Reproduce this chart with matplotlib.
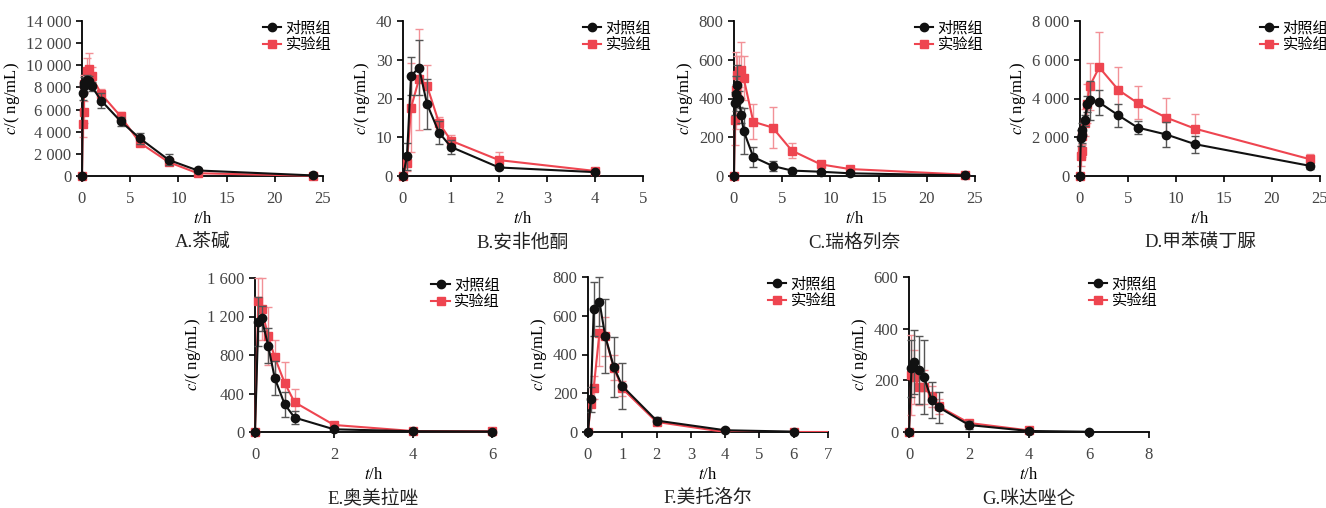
import matplotlib
matplotlib.use('Agg')
import matplotlib.pyplot as plt
from matplotlib.lines import Line2D
from matplotlib.ticker import FuncFormatter

plt.rcParams['font.family'] = ['Liberation Serif', 'Noto Sans CJK SC']
plt.rcParams['mathtext.fontset'] = 'stix'

BLACK = '#111111'
RED = '#ee4550'

# A 茶碱
t_a = [0, 0.083, 0.167, 0.25, 0.5, 0.75, 1, 2, 4, 6, 9, 12, 24]
ctrl_a = [0, 7500, 8100, 8400, 8700, 8600, 8100, 6800, 4950, 3400, 1450, 500, 50]
ctrl_a_sd = [0, 600, 500, 500, 400, 400, 400, 700, 400, 500, 500, 200, 50]
exp_a = [0, 4700, 5800, 8300, 9500, 9700, 9000, 7400, 5400, 3000, 1250, 250, 20]
exp_a_sd = [0, 1200, 1000, 800, 1200, 1400, 800, 500, 400, 300, 300, 150, 50]

# B 安非他酮
t_b = [0, 0.083, 0.167, 0.333, 0.5, 0.75, 1, 2, 4]
ctrl_b = [0, 5.1, 25.8, 28.0, 18.6, 11.2, 7.5, 2.2, 1.0]
ctrl_b_sd = [0, 3.5, 5.0, 7.0, 6.5, 3.0, 1.8, 0.5, 0.3]
exp_b = [0, 3.3, 17.6, 25.0, 23.3, 13.7, 9.1, 4.1, 1.3]
exp_b_sd = [0, 2.0, 11.5, 13.0, 5.4, 1.5, 1.5, 2.0, 0.4]

# C 瑞格列奈
t_c = [0, 0.083, 0.167, 0.333, 0.5, 0.75, 1, 2, 4, 6, 9, 12, 24]
ctrl_c = [0, 376, 425, 472, 397, 313, 233, 98, 52, 28, 22, 14, 3]
ctrl_c_sd = [0, 60, 90, 100, 40, 40, 120, 52, 25, 8, 5, 4, 2]
exp_c = [0, 287, 442, 520, 540, 549, 506, 280, 250, 131, 60, 36, 7]
exp_c_sd = [0, 125, 200, 100, 80, 145, 115, 90, 105, 40, 10, 8, 3]

# D 甲苯磺丁脲
t_d = [0, 0.083, 0.167, 0.25, 0.5, 0.75, 1, 2, 4, 6, 9, 12, 24]
ctrl_d = [0, 1950, 2100, 2400, 2870, 3710, 3900, 3800, 3130, 2500, 2140, 1640, 520]
ctrl_d_sd = [0, 400, 400, 350, 300, 400, 1000, 650, 580, 350, 650, 450, 150]
exp_d = [0, 1040, 1300, 2070, 2760, 3730, 4630, 5610, 4440, 3770, 3010, 2440, 860]
exp_d_sd = [0, 500, 300, 400, 700, 1000, 1200, 1800, 1200, 850, 1000, 780, 300]

# E 奥美拉唑
t_e = [0, 0.083, 0.167, 0.333, 0.5, 0.75, 1, 2, 4, 6]
ctrl_e = [0, 1148, 1183, 897, 560, 289, 150, 28, 8, 5]
ctrl_e_sd = [0, 250, 130, 180, 180, 130, 70, 10, 3, 2]
exp_e = [0, 1363, 1277, 998, 776, 511, 310, 73, 10, 8]
exp_e_sd = [0, 237, 320, 300, 180, 220, 140, 15, 3, 2]

# F 美托洛尔
t_f = [0, 0.083, 0.167, 0.333, 0.5, 0.75, 1, 2, 4, 6]
ctrl_f = [0, 168, 635, 673, 497, 336, 237, 59, 9, 2]
ctrl_f_sd = [0, 65, 140, 125, 190, 155, 120, 20, 3, 1]
t_f_exp = [0, 0.083, 0.167, 0.333, 0.5, 0.75, 1, 2, 4, 6, 8]
exp_f = [0, 147, 229, 511, 494, 332, 225, 52, 0, 0, 0]
exp_f_sd = [0, 20, 60, 170, 100, 65, 40, 15, 0, 0, 0]

# G 咪达唑仑
t_g = [0, 0.083, 0.167, 0.333, 0.5, 0.75, 1, 2, 4, 6]
ctrl_g = [0, 247, 271, 240, 213, 125, 95, 27, 4, 1]
ctrl_g_sd = [0, 110, 125, 130, 145, 70, 60, 15, 3, 1]
t_g_exp = [0, 0.083, 0.167, 0.333, 0.5, 0.75, 1, 2, 4]
exp_g = [0, 221, 212, 176, 174, 138, 99, 35, 6]
exp_g_sd = [0, 155, 105, 70, 65, 40, 30, 10, 3]

panels = [
    ('A.茶碱', [82, 21, 323, 176], t_a, ctrl_a, ctrl_a_sd, t_a, exp_a, exp_a_sd, 25, [0, 5, 10, 15, 20, 25], 14000, 2000),
    ('B.安非他酮', [403, 21, 643, 176], t_b, ctrl_b, ctrl_b_sd, t_b, exp_b, exp_b_sd, 5, [0, 1, 2, 3, 4, 5], 40, 10),
    ('C.瑞格列奈', [734, 21, 975, 176], t_c, ctrl_c, ctrl_c_sd, t_c, exp_c, exp_c_sd, 25, [0, 5, 10, 15, 20, 25], 800, 200),
    ('D.甲苯磺丁脲', [1080, 21, 1320, 176], t_d, ctrl_d, ctrl_d_sd, t_d, exp_d, exp_d_sd, 25, [0, 5, 10, 15, 20, 25], 8000, 2000),
    ('E.奥美拉唑', [255, 278, 492, 432], t_e, ctrl_e, ctrl_e_sd, t_e, exp_e, exp_e_sd, 6, [0, 2, 4, 6], 1600, 400),
    ('F.美托洛尔', [588, 277, 828, 432], t_f, ctrl_f, ctrl_f_sd, t_f_exp, exp_f, exp_f_sd, 7, [0, 1, 2, 3, 4, 5, 6, 7], 800, 200),
    ('G.咪达唑仑', [909, 277, 1149, 432], t_g, ctrl_g, ctrl_g_sd, t_g_exp, exp_g, exp_g_sd, 8, [0, 2, 4, 6, 8], 600, 200),
]

W, H = 1326, 508
fig = plt.figure(figsize=(W / 100, H / 100), dpi=100)


def thousands(v, pos):
    return f'{int(v):,}'.replace(',', ' ')


for title, box, tc, yc, sc, te, ye, se, xmax, xt, ymax, ystep in panels:
    x0, y0, x1, y1 = box
    ax = fig.add_axes([x0 / W, 1 - y1 / H, (x1 - x0) / W, (y1 - y0) / H])
    clip_e = max(te) > xmax
    ax.errorbar(te, ye, yerr=se, color=RED, ecolor='#f29197', elinewidth=1.0, capsize=3,
                capthick=1.0, marker='s', markersize=6, lw=1.5, clip_on=clip_e, zorder=3)
    ax.errorbar(tc, yc, yerr=sc, color=BLACK, ecolor='#555555', elinewidth=1.0, capsize=3,
                capthick=1.0, marker='o', markersize=6, lw=1.5, clip_on=False, zorder=4)
    ax.set_xlim(0, xmax)
    ax.set_ylim(0, ymax)
    ax.set_xticks(xt)
    ax.set_yticks(range(0, ymax + 1, ystep))
    ax.yaxis.set_major_formatter(FuncFormatter(thousands))
    for s in ['top', 'right']:
        ax.spines[s].set_visible(False)
    for s in ['left', 'bottom']:
        ax.spines[s].set_linewidth(1.3)
    ax.tick_params(direction='out', length=4, width=1.2, labelsize=12, labelcolor='#444444')
    ax.tick_params(axis='x', pad=7)
    ax.set_xlabel('$t$/h', fontsize=12, labelpad=3)
    ax.set_ylabel('$c$/( ng/mL)', fontsize=12, labelpad=3)
    handles = [Line2D([], [], color=BLACK, marker='o', markersize=6, lw=1.5),
               Line2D([], [], color=RED, marker='s', markersize=6, lw=1.5)]
    ax.legend(handles, ['对照组', '实验组'], loc='upper right', bbox_to_anchor=(1.06, 1.04),
              frameon=False, fontsize=11, handlelength=1.2, handletextpad=0.3,
              borderaxespad=0, labelspacing=0.2)
    ax.text(0.5, -0.43, title, transform=ax.transAxes, ha='center', va='center',
            fontsize=13.5, color='#222222')

fig.savefig('out.png', dpi=100)
